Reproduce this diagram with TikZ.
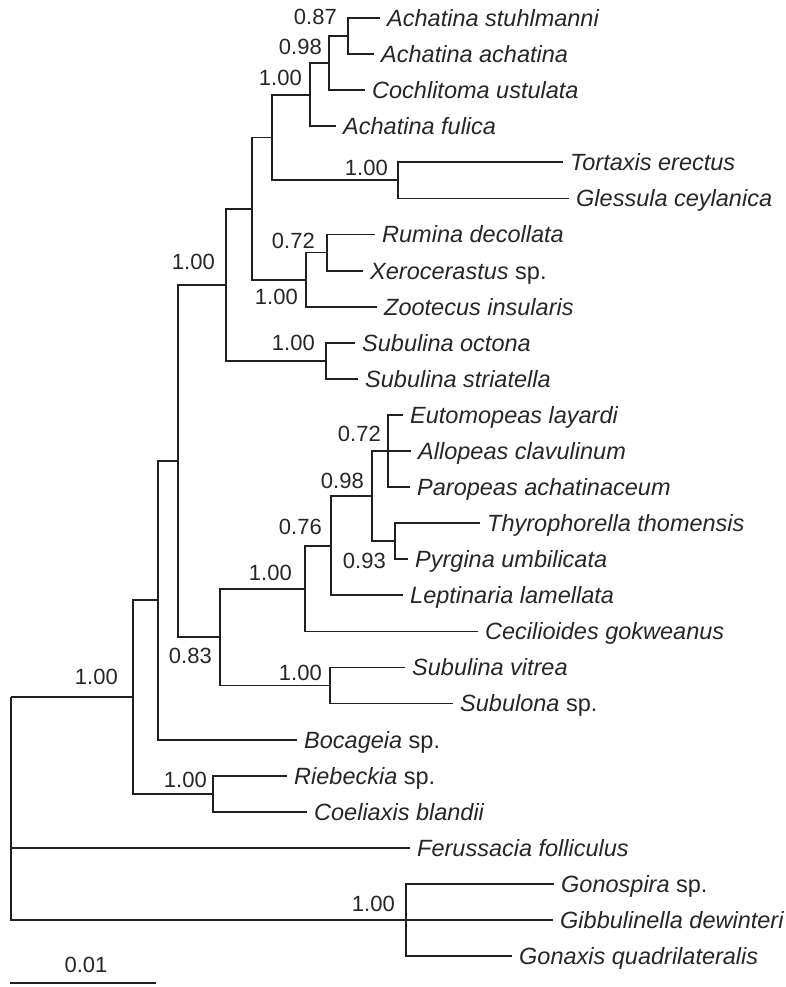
\documentclass[tikz,border=0pt]{standalone}
\usepackage{fontspec}
\setmainfont{Liberation Sans}
\begin{document}
\begin{tikzpicture}[x=1pt,y=-1pt,
  branch/.style={line width=1.8pt, draw=black!88},
  taxon/.style={anchor=west, inner sep=0pt, xshift=7pt, text height=16.8pt,
    text depth=0pt, font=\fontsize{23.5}{28}\selectfont, text=black!85},
  support/.style={anchor=east, inner sep=0pt, text height=15.8pt,
    text depth=0pt, font=\fontsize{22}{26}\selectfont, text=black!85}]
\useasboundingbox (0,0) rectangle (786,987);

% leaf tips (end of each terminal branch)
\coordinate (l0)  at (380, 18.0);
\coordinate (l1)  at (374, 54.1);
\coordinate (l2)  at (365, 90.2);
\coordinate (l3)  at (336,126.2);
\coordinate (l4)  at (563,162.3);
\coordinate (l5)  at (569,198.4);
\coordinate (l6)  at (375,234.5);
\coordinate (l7)  at (363,270.6);
\coordinate (l8)  at (377,306.6);
\coordinate (l9)  at (355,342.7);
\coordinate (l10) at (358,378.8);
\coordinate (l11) at (403,414.9);
\coordinate (l12) at (411,451.0);
\coordinate (l13) at (410,487.0);
\coordinate (l14) at (480,523.1);
\coordinate (l15) at (408,559.2);
\coordinate (l16) at (403,595.3);
\coordinate (l17) at (478,631.4);
\coordinate (l18) at (405,667.4);
\coordinate (l19) at (453,703.5);
\coordinate (l20) at (297,739.6);
\coordinate (l21) at (287,775.7);
\coordinate (l22) at (307,811.8);
\coordinate (l23) at (410,847.8);
\coordinate (l24) at (554,883.9);
\coordinate (l25) at (553,920.0);
\coordinate (l26) at (512,956.1);

% internal nodes
\coordinate (nA) at (348, 36.1);
\coordinate (nB) at (329, 63.1);
\coordinate (nC) at (310, 94.7);
\coordinate (nD) at (398,180.4);
\coordinate (nE) at (272,137.5);
\coordinate (nF) at (327,252.5);
\coordinate (nG) at (306,279.6);
\coordinate (nH) at (252,208.6);
\coordinate (nJ) at (326,360.8);
\coordinate (nI) at (226,284.7);
\coordinate (nK) at (388,451.0);
\coordinate (nL) at (395,541.2);
\coordinate (nM) at (372,496.1);
\coordinate (nN) at (331,545.7);
\coordinate (nO) at (305,588.6);
\coordinate (nP) at (330,685.5);
\coordinate (nQ) at (220,637.0);
\coordinate (nR) at (178,460.9);
\coordinate (nS) at (158,600.2);
\coordinate (nT) at (213,793.7);
\coordinate (nU) at (133,697.0);
\coordinate (nV) at (406,920.0);
\coordinate (root) at (11,697.0);

% branches: parent |- child
\foreach \p/\c in {nA/l0, nA/l1, nB/nA, nB/l2, nC/nB, nC/l3,
    nD/l4, nD/l5, nE/nC, nE/nD, nF/l6, nF/l7, nG/nF, nG/l8,
    nH/nE, nH/nG, nJ/l9, nJ/l10, nI/nH, nI/nJ,
    nK/l11, nK/l12, nK/l13, nL/l14, nL/l15, nM/nK, nM/nL,
    nN/nM, nN/l16, nO/nN, nO/l17, nP/l18, nP/l19, nQ/nO, nQ/nP,
    nR/nI, nR/nQ, nS/nR, nS/l20, nT/l21, nT/l22, nU/nS, nU/nT,
    nV/l24, nV/l25, nV/l26, root/nU, root/l23, root/nV}
  \draw[branch] (\p) |- (\c);

% taxon names
\node[taxon] (t0)  at (l0)  {\textit{Achatina stuhlmanni}};
\node[taxon] (t1)  at (l1)  {\textit{Achatina achatina}};
\node[taxon] (t2)  at (l2)  {\textit{Cochlitoma ustulata}};
\node[taxon] (t3)  at (l3)  {\textit{Achatina fulica}};
\node[taxon] (t4)  at (l4)  {\textit{Tortaxis erectus}};
\node[taxon] (t5)  at (l5)  {\textit{Glessula ceylanica}};
\node[taxon] (t6)  at (l6)  {\textit{Rumina decollata}};
\node[taxon] (t7)  at (l7)  {\textit{Xerocerastus} sp.};
\node[taxon] (t8)  at (l8)  {\textit{Zootecus insularis}};
\node[taxon] (t9)  at (l9)  {\textit{Subulina octona}};
\node[taxon] (t10) at (l10) {\textit{Subulina striatella}};
\node[taxon] (t11) at (l11) {\textit{Eutomopeas layardi}};
\node[taxon] (t12) at (l12) {\textit{Allopeas clavulinum}};
\node[taxon] (t13) at (l13) {\textit{Paropeas achatinaceum}};
\node[taxon] (t14) at (l14) {\textit{Thyrophorella thomensis}};
\node[taxon] (t15) at (l15) {\textit{Pyrgina umbilicata}};
\node[taxon] (t16) at (l16) {\textit{Leptinaria lamellata}};
\node[taxon] (t17) at (l17) {\textit{Cecilioides gokweanus}};
\node[taxon] (t18) at (l18) {\textit{Subulina vitrea}};
\node[taxon] (t19) at (l19) {\textit{Subulona} sp.};
\node[taxon] (t20) at (l20) {\textit{Bocageia} sp.};
\node[taxon] (t21) at (l21) {\textit{Riebeckia} sp.};
\node[taxon] (t22) at (l22) {\textit{Coeliaxis blandii}};
\node[taxon] (t23) at (l23) {\textit{Ferussacia folliculus}};
\node[taxon] (t24) at (l24) {\textit{Gonospira} sp.};
\node[taxon] (t25) at (l25) {\textit{Gibbulinella dewinteri}};
\node[taxon] (t26) at (l26) {\textit{Gonaxis quadrilateralis}};

% support values
\node[support] (sA) at (337, 17) {0.87};
\node[support] (sB) at (322, 47) {0.98};
\node[support] (sC) at (302, 78) {1.00};
\node[support] (sD) at (388,168) {1.00};
\node[support] (sF) at (315,241) {0.72};
\node[support] (sG) at (298,297) {1.00};
\node[support] (sJ) at (315,343) {1.00};
\node[support] (sI) at (215,262) {1.00};
\node[support] (sK) at (381,434) {0.72};
\node[support] (sM) at (364,481) {0.98};
\node[support] (sN) at (322,527) {0.76};
\node[support] (sL) at (386,561) {0.93};
\node[support] (sO) at (292,573) {1.00};
\node[support] (sQ) at (212,656) {0.83};
\node[support] (sP) at (322,673) {1.00};
\node[support] (sT) at (207,780) {1.00};
\node[support] (sU) at (118,677) {1.00};
\node[support] (sV) at (395,904) {1.00};

% scale bar
\coordinate (sb1) at (10,983);
\coordinate (sb2) at (156,983);
\draw[branch] (sb1) -- (sb2);
\node[support, anchor=center] (sbl) at (86,965) {0.01};
\end{tikzpicture}
\end{document}
